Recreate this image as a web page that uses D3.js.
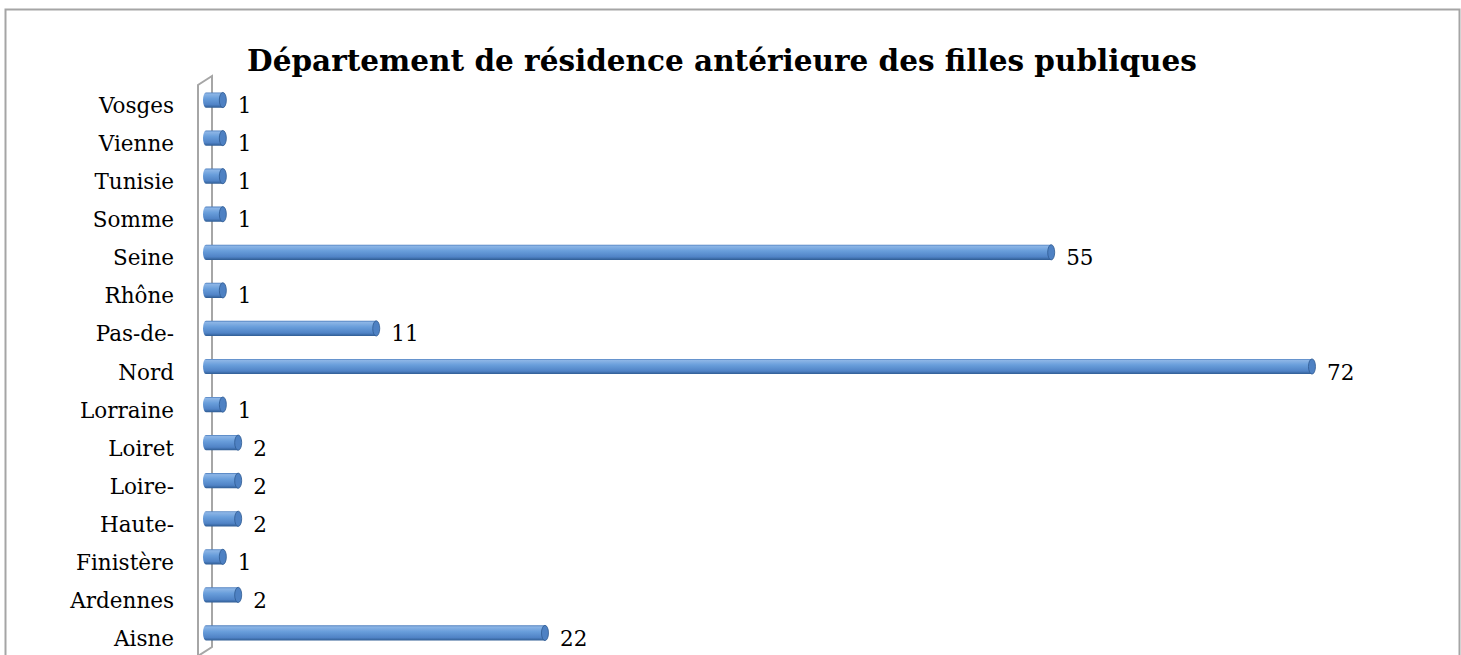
<!DOCTYPE html>
<html>
<head>
<meta charset="utf-8">
<script src="https://cdn.jsdelivr.net/npm/d3@7"></script>
<style>
  html, body { margin: 0; padding: 0; background: #ffffff; }
  svg { display: block; }
</style>
</head>
<body>
<svg id="chart" width="1461" height="655"></svg>
<script>
// Départements listed bottom-to-top as they appear on the axis
const categories = ["Aisne", "Ardennes", "Finistère", "Haute-", "Loire-", "Loiret", "Lorraine",
  "Nord", "Pas-de-", "Rhône", "Seine", "Somme", "Tunisie", "Vienne", "Vosges"];
const counts = [22, 2, 1, 2, 2, 2, 1, 72, 11, 1, 55, 1, 1, 1, 1];
const chartTitle = "Département de résidence antérieure des filles publiques";

const svg = d3.select("#chart");
const serif = "'DejaVu Serif', 'Liberation Serif', serif";

// outer chart frame
svg.append("rect")
  .attr("x", 5.5).attr("y", 9.5)
  .attr("width", 1454).attr("height", 700)
  .attr("fill", "#ffffff")
  .attr("stroke", "#a5a5a5").attr("stroke-width", 2);

// scales
const x = d3.scaleLinear().domain([0, 80]).range([207.5, 1434.7]);
const y = d3.scaleBand()
  .domain(categories.slice().reverse())
  .range([81, 652])
  .paddingInner(0.6)
  .paddingOuter(0.3);
const bw = y.bandwidth();

// cylinder shading
const defs = svg.append("defs");
const grad = defs.append("linearGradient")
  .attr("id", "barShade").attr("x1", 0).attr("y1", 0).attr("x2", 0).attr("y2", 1);
[[0, "#4c7dbd"], [0.1, "#8cb5e6"], [0.4, "#699edb"], [0.8, "#5083c6"], [1, "#2f5c93"]]
  .forEach(([o, c]) => grad.append("stop").attr("offset", o).attr("stop-color", c));

// 3D side wall of the category axis
const wallDepth = 14, wallRise = 9;
const wallFrontX = 198;
svg.append("path")
  .attr("d", `M${wallFrontX},700 L${wallFrontX},85 L${wallFrontX + wallDepth},${85 - wallRise}
              L${wallFrontX + wallDepth},647 L${wallFrontX},${647 + wallRise}`)
  .attr("fill", "none")
  .attr("stroke", "#a6a6a6").attr("stroke-width", 2)
  .attr("stroke-linejoin", "miter");

// bars
const barStart = 203;
const rows = categories.map((c, i) => ({ cat: c, v: counts[i] }));
const bars = svg.append("g").selectAll("g").data(rows).join("g");

bars.append("path")
  .attr("d", d => {
    const y0 = y(d.cat), y1 = y0 + bw, xe = x(d.v), r = bw / 2;
    return `M${xe},${y0} L${barStart + 3},${y0} A3,${r} 0 0 0 ${barStart + 3},${y1} L${xe},${y1} Z`;
  })
  .attr("fill", "url(#barShade)");

bars.append("ellipse")
  .attr("cx", d => x(d.v))
  .attr("cy", d => y(d.cat) + bw / 2)
  .attr("rx", 3.5).attr("ry", bw / 2)
  .attr("fill", "#4e81c3")
  .attr("stroke", "#2e5b92").attr("stroke-width", 0.8);

// value labels
svg.append("g").selectAll("text").data(rows).join("text")
  .attr("x", d => x(d.v) + 15)
  .attr("y", d => y(d.cat) + bw / 2 + 5.5)
  .attr("dominant-baseline", "central")
  .attr("font-family", serif).attr("font-size", 21.5)
  .attr("fill", "#000")
  .text(d => d.v);

// category labels
svg.append("g").selectAll("text").data(categories).join("text")
  .attr("x", 174)
  .attr("y", d => y(d) + bw / 2 + 5.5)
  .attr("text-anchor", "end")
  .attr("dominant-baseline", "central")
  .attr("font-family", serif).attr("font-size", 21.5)
  .attr("fill", "#000")
  .text(d => d);

// title
svg.append("text")
  .attr("x", 722).attr("y", 60)
  .attr("text-anchor", "middle")
  .attr("dominant-baseline", "central")
  .attr("font-family", serif).attr("font-size", 29.5).attr("font-weight", "bold")
  .attr("fill", "#000")
  .text(chartTitle);
</script>
</body>
</html>
